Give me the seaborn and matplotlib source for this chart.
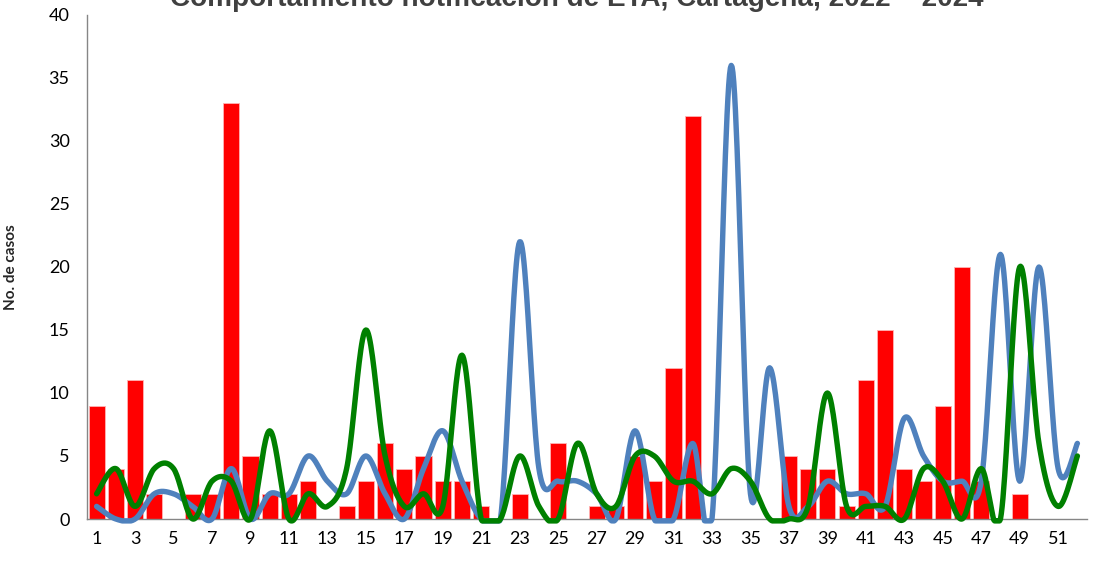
import numpy as np
import pandas as pd
import matplotlib
matplotlib.use('Agg')
import matplotlib.pyplot as plt
import seaborn as sns

sns.set_style('white')
plt.rcParams['font.family'] = ['Lato', 'DejaVu Sans']

TITLE = 'Comportamiento notificación de ETA, Cartagena, 2022 – 2024'
weeks = list(range(1, 53))
# red bars
cases_bar = [9, 4, 11, 2, 0, 2, 2, 33, 5, 2, 2, 3, 0, 1, 3, 6, 4, 5, 3, 3,
             1, 0, 2, 0, 6, 0, 1, 1, 5, 3, 12, 32, 0, 0, 0, 0, 5, 4, 4, 1,
             11, 15, 4, 3, 9, 20, 3, 0, 2, 0, 0, 0]
# blue line
cases_blue = [1, 0, 0, 2, 2, 1, 0, 4, 0, 2, 2, 5, 3, 2, 5, 2, 0, 4, 7, 3,
              0, 0, 22, 4, 3, 3, 2, 0, 7, 0, 0, 6, 0, 36, 2, 12, 1, 1, 3, 2,
              2, 1, 8, 5, 3, 3, 3, 21, 3, 20, 4, 6]
# green line
cases_green = [2, 4, 1, 4, 4, 0, 3, 3, 0, 7, 0, 2, 1, 4, 15, 5, 1, 2, 1, 13,
               0, 0, 5, 1, 0, 6, 2, 1, 5, 5, 3, 3, 2, 4, 3, 0, 0, 1, 10, 1,
               1, 1, 0, 4, 3, 0, 4, 0, 20, 6, 1, 5]
xticks = list(range(1, 53, 2))
yticks = list(range(0, 41, 5))


def smooth(x, y, n=24):
    # Excel-like smoothed line: Catmull-Rom through every point, drawn as bezier segments
    x = np.asarray(x, float)
    y = np.asarray(y, float)
    px = np.concatenate([[x[0]], x, [x[-1]]])
    py = np.concatenate([[y[0]], y, [y[-1]]])
    t = np.linspace(0, 1, n)
    xs, ys = [], []
    for i in range(1, len(px) - 2):
        p0 = np.array([px[i], py[i]])
        p3 = np.array([px[i + 1], py[i + 1]])
        p1 = p0 + (p3 - np.array([px[i - 1], py[i - 1]])) / 6
        p2 = p3 - (np.array([px[i + 2], py[i + 2]]) - p0) / 6
        b = ((1 - t) ** 3)[:, None] * p0 + (3 * (1 - t) ** 2 * t)[:, None] * p1 \
            + (3 * (1 - t) * t ** 2)[:, None] * p2 + (t ** 3)[:, None] * p3
        if i > 1:
            b = b[1:]
        xs.append(b[:, 0])
        ys.append(b[:, 1])
    # the chart clips the curve at the bottom of the plot area
    return np.concatenate(xs), np.maximum(np.concatenate(ys), -0.15)


fig = plt.figure(figsize=(10.93, 5.80), dpi=100)
ax = fig.add_axes([87 / 1093, 1 - 519 / 580, 1000 / 1093, 504 / 580])

df = pd.DataFrame({'week': weeks, 'cases': cases_bar})
sns.barplot(data=df, x='week', y='cases', native_scale=True, width=0.84,
            color='#FF0000', saturation=1, errorbar=None, edgecolor='#FFB3B3',
            linewidth=0.6, ax=ax, zorder=2)

for vals, col, z in [(cases_blue, '#4F81BD', 3), (cases_green, '#008000', 4)]:
    sx, sy = smooth(weeks, vals)
    sns.lineplot(x=sx, y=sy, sort=False, estimator=None, color=col, lw=3.9,
                 ax=ax, zorder=z, clip_on=False, solid_capstyle='round')

ax.set_xlim(0.5, 52.5)
ax.set_ylim(0, 40)
ax.set_xticks(xticks)
ax.set_xticklabels([str(w) for w in xticks])
ax.set_xticks(np.arange(0.5, 53, 1), minor=True)
ax.set_yticks(yticks)
ax.tick_params(axis='x', which='major', length=0, pad=9, labelsize=13, colors='black')
ax.tick_params(axis='x', which='minor', length=4.5, width=1, color='#868686', direction='out')
ax.tick_params(axis='y', length=4, width=1, color='#868686', pad=8.5, labelsize=13,
               labelcolor='black', direction='out')
ax.set_xlabel('')
ax.set_ylabel('No. de casos', fontsize=11, fontweight='bold')
ax.yaxis.set_label_coords(-0.069, 0.5)
for s in ['top', 'right']:
    ax.spines[s].set_visible(False)
for s in ['left', 'bottom']:
    ax.spines[s].set_color('#868686')
    ax.spines[s].set_linewidth(1)

t = fig.text(577 / 1093, 1 - 6 / 580, TITLE, ha='center', va='baseline', fontsize=16,
             fontweight='bold', color='#404040', family='Liberation Sans')
fig.canvas.draw()
w = t.get_window_extent().width
t.set_fontsize(16 * 810 / w)

fig.savefig('out.png', dpi=100)
